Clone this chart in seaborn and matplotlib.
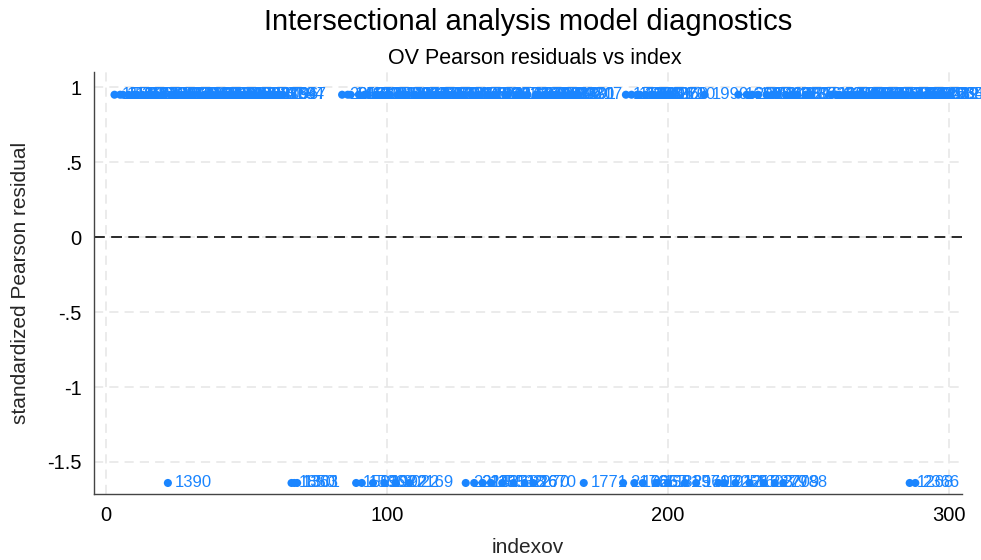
import numpy as np
import pandas as pd
import matplotlib
matplotlib.use("Agg")
import matplotlib.pyplot as plt
import seaborn as sns

# ---- data -------------------------------------------------------------
# observations with a positive standardized Pearson residual
top_index = [3, 5, 6, 8, 10, 11, 13, 15, 17, 18, 20, 23, 24, 26, 28, 29, 31, 33,
             35, 36, 38, 40, 41, 43, 45, 47, 48, 50, 52, 53, 55, 57, 59, 60, 62, 63,
             84, 86, 87, 90, 92, 93, 96, 98, 100, 101, 104, 106, 107, 110, 112,
             113, 115, 117, 119, 120, 122, 124, 126, 127, 130, 132, 133, 136, 138,
             139, 142, 143, 146, 148, 150, 153, 154, 156, 158, 160, 161, 163, 165,
             166, 168,
             185, 187, 189, 190, 192, 194, 195, 197, 199, 201, 213, 225, 228, 230,
             232, 235, 237, 239, 242, 244, 246, 249, 251,
             258, 260, 261, 263, 265, 267, 268, 270, 272, 273, 275, 277, 279, 280,
             282, 284, 285, 287, 289, 290, 292, 294, 295, 297, 298, 300]
top_id = [1550, 1560, 1597, 1986, 2437, 1122, 1843, 2290, 1375, 2718,
          1604, 2051, 1239, 1762, 2384, 1418, 2903, 1137, 1685, 2246,
          1329, 2570, 1871, 1046, 2195, 1733, 2462, 1508, 1954, 2627,
          1281, 1819, 2339, 1096, 2784, 1647, 2013, 1462, 2558, 1177,
          1925, 2406, 1358, 2681, 1590, 2122, 1704, 2871, 1213, 1987,
          2305, 1436, 2749, 1065, 1898, 2524, 1621, 2160, 1347, 2438,
          1782, 1259, 2601, 1935, 2087, 1493, 2832, 1156, 1718, 2263,
          1574, 2395, 1024, 1861, 2709, 1312, 2046, 1659, 2980, 1401,
          2217, 1795, 1534, 2653, 1188, 2369, 1906, 1427, 2512, 1068,
          2200, 1999, 1613, 2095, 1352, 2846, 1962, 1242, 2428, 1689,
          2137, 1516, 2764, 1028, 1997, 2321, 1455, 2590, 1827, 1294,
          2073, 1668, 2489, 1141, 1913, 2652, 1387, 2206, 1725, 2938,
          1479, 2164, 1036, 1849, 2543, 1266, 2012, 1634, 2397, 2356]
top_resid = 0.95

# observations with a negative standardized Pearson residual
bottom_index = [22, 66, 67, 68, 89, 91, 95, 99, 103, 108,
                128, 131, 134, 137, 141, 145, 149, 152, 170, 184,
                188, 191, 196, 200, 206, 210, 218, 220, 224, 229,
                234, 238, 241, 286, 288]
bottom_id = [1390, 1850, 1363, 1301, 1592, 1536, 1902, 1992, 2022, 2169,
             2215, 2243, 1251, 1553, 1518, 1926, 2270, 1670, 1771, 2176,
             1626, 2657, 1581, 1829, 2571, 1697, 1912, 2255, 1215, 1603,
             2279, 2709, 2788, 1268, 2366]
bottom_resid = -1.64

x_ticks = [0, 100, 200, 300]
y_ticks = [1, 0.5, 0, -0.5, -1, -1.5]
y_tick_labels = ["1", ".5", "0", "-.5", "-1", "-1.5"]

# ---- assemble frame ---------------------------------------------------
df = pd.DataFrame({
    "indexov": top_index + bottom_index,
    "id": top_id + bottom_id,
    "resid": [top_resid] * len(top_index) + [bottom_resid] * len(bottom_index),
}).sort_values("indexov").reset_index(drop=True)

# ---- plot -------------------------------------------------------------
sns.set_theme(style="white")
plt.rcParams["font.family"] = ["Liberation Sans", "DejaVu Sans"]

blue = "#1a85ff"
fig = plt.figure(figsize=(9.81, 5.6), dpi=100)
ax = fig.add_axes([0.0958, 0.118, 0.8848, 0.753])

ax.set_xlim(-4.3, 304.6)
ax.set_ylim(-1.713, 1.10)

# dashed grid
for xv in x_ticks:
    ax.axvline(xv, color="#e6e6e6", lw=1.1, ls=(0, (6, 4)), zorder=0)
for yv in y_ticks:
    ax.axhline(yv, color="#e6e6e6", lw=1.1, ls=(0, (6, 4)), zorder=0)

# reference line at zero
ax.axhline(0, color="#1a1a1a", lw=1.3, ls=(0, (6, 3.5)), zorder=1)

# marker labels (observation ids)
for _, r in df.iterrows():
    ax.annotate(str(int(r["id"])), (r["indexov"], r["resid"]),
                xytext=(5, 0), textcoords="offset points",
                ha="left", va="center", fontsize=12, color=blue, zorder=3,
                annotation_clip=False)

sns.scatterplot(data=df, x="indexov", y="resid", ax=ax, color=blue,
                s=34, edgecolor="none", linewidth=0, zorder=4, legend=False)

ax.set_xticks(x_ticks)
ax.set_yticks(y_ticks)
ax.set_yticklabels(y_tick_labels)
ax.tick_params(axis="both", direction="out", length=5, width=1,
               color="#444444", labelsize=14.5, labelcolor="black", pad=4)
for side in ["top", "right"]:
    ax.spines[side].set_visible(False)
for side in ["left", "bottom"]:
    ax.spines[side].set_color("#444444")
    ax.spines[side].set_linewidth(1)

ax.set_xlabel("indexov", fontsize=15, labelpad=9)
ax.set_ylabel("standardized Pearson residual", fontsize=15, labelpad=12)

fig.text(0.538, 0.961, "Intersectional analysis model diagnostics",
         ha="center", va="center", fontsize=21, color="black")
fig.text(0.545, 0.895, "OV Pearson residuals vs index",
         ha="center", va="center", fontsize=15.5, color="black")

fig.savefig("out.png", dpi=100, facecolor="white")
